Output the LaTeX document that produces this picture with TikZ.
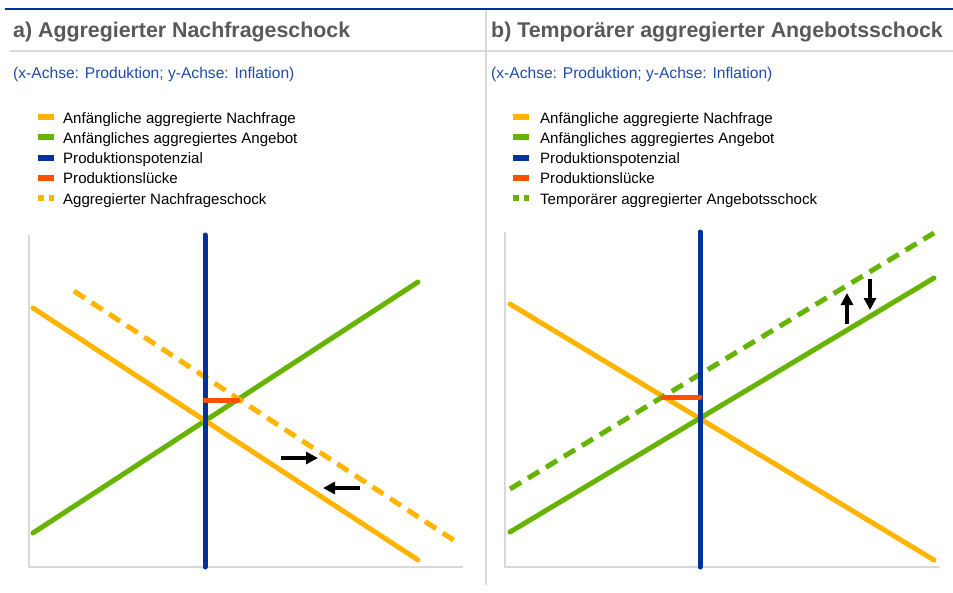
\documentclass[tikz,border=0pt]{standalone}
\usepackage{fontspec}
\setmainfont{Liberation Sans}
\usetikzlibrary{arrows.meta}
\definecolor{adorange}{HTML}{FFB400}
\definecolor{asgreen}{HTML}{66B300}
\definecolor{potblue}{HTML}{003399}
\definecolor{gapred}{HTML}{FF5000}
\definecolor{rulegray}{HTML}{D9D9D9}
\definecolor{titlegray}{HTML}{595959}
\definecolor{subblue}{HTML}{1E4DA1}
\tikzset{
  curve/.style={line width=5pt, line cap=round},
  dcurve/.style={line width=5pt, dash pattern=on 13pt off 8pt},
  legline/.style={line width=6pt},
  legdash/.style={line width=6pt, dash pattern=on 5.5pt off 5pt},
  legtext/.style={anchor=base west, inner sep=0pt, font=\fontsize{15.05}{17}\selectfont, text=black},
  paneltitle/.style={anchor=base west, inner sep=0pt, font=\fontsize{21.35}{25}\selectfont\bfseries, text=titlegray},
  subtitle/.style={anchor=base west, inner sep=0pt, font=\fontsize{15.6}{18}\selectfont, text=subblue},
  axisline/.style={rulegray, line width=1.2pt},
  shiftarrow/.style={line width=4pt, -{Triangle[length=12pt,width=12pt]}},
}
\begin{document}
\begin{tikzpicture}[x=1pt,y=-1pt]
\useasboundingbox (0,0) rectangle (953,592);
% frame lines
\coordinate (tb1) at (5,9); \coordinate (tb2) at (953,9);
\draw[potblue, line width=2pt] (tb1) -- (tb2);
\coordinate (gl1) at (10,51); \coordinate (gl2) at (953,51);
\draw[rulegray, line width=1.5pt] (gl1) -- (gl2);
\coordinate (sep1) at (486,10); \coordinate (sep2) at (486,585);
\draw[rulegray, line width=1.2pt] (sep1) -- (sep2);

% titles
\node[paneltitle] (ta) at (13,37.5) {a) Aggregierter Nachfrageschock};
\node[paneltitle] (tbb) at (491,37.5) {b) Temporärer aggregierter Angebotsschock};
\node[subtitle] (sa) at (13,78) {(x-Achse: Produktion; y-Achse: Inflation)};
\node[subtitle] (sb) at (491,78) {(x-Achse: Produktion; y-Achse: Inflation)};

% legend a
\foreach \i/\c/\t in {0/adorange/Anfängliche aggregierte Nachfrage,
                      1/asgreen/Anfängliches aggregiertes Angebot,
                      2/potblue/Produktionspotenzial,
                      3/gapred/Produktionslücke}{
  \coordinate (la\i s) at (38,117+20.3*\i);
  \coordinate (la\i e) at (54,117+20.3*\i);
  \draw[legline, \c] (la\i s) -- (la\i e);
  \node[legtext] (lat\i) at (63,123+20.3*\i) {\t};
  \coordinate (lb\i s) at (513,117+20.3*\i);
  \coordinate (lb\i e) at (529,117+20.3*\i);
  \draw[legline, \c] (lb\i s) -- (lb\i e);
  \node[legtext] (lbt\i) at (540,123+20.3*\i) {\t};
}
\coordinate (la4s) at (38,198.2); \coordinate (la4e) at (54,198.2);
\draw[legdash, adorange] (la4s) -- (la4e);
\node[legtext] (lat4) at (63,204.2) {Aggregierter Nachfrageschock};
\coordinate (lb4s) at (513,198.2); \coordinate (lb4e) at (529,198.2);
\draw[legdash, asgreen] (lb4s) -- (lb4e);
\node[legtext] (lbt4) at (540,204.2) {Temporärer aggregierter Angebotsschock};

% ---------- panel a ----------
\coordinate (ay0) at (29,235); \coordinate (ao) at (29,567); \coordinate (ax1) at (463,567);
\draw[axisline] (ay0) -- (ao) -- (ax1);
\coordinate (ad1) at (33,308); \coordinate (ad2) at (418,560);
\coordinate (as1) at (33,533); \coordinate (as2) at (418,282);
\coordinate (adn1) at (74,291); \coordinate (adn2) at (458,543);
\coordinate (pp1) at (205,235); \coordinate (pp2) at (205,567);
\coordinate (gp1) at (205,400); \coordinate (gp2) at (238,400);
\draw[curve, asgreen] (as1) -- (as2);
\draw[curve, adorange] (ad1) -- (ad2);
\draw[dcurve, adorange] (adn1) -- (adn2);
\draw[curve, potblue] (pp1) -- (pp2);
\draw[curve, gapred] (gp1) -- (gp2);
\coordinate (ar1s) at (281,458); \coordinate (ar1e) at (318,458);
\coordinate (ar2s) at (360,488); \coordinate (ar2e) at (323,488);
\draw[shiftarrow] (ar1s) -- (ar1e);
\draw[shiftarrow] (ar2s) -- (ar2e);

% ---------- panel b ----------
\coordinate (by0) at (505,232); \coordinate (bo) at (505,567); \coordinate (bx1) at (940,567);
\draw[axisline] (by0) -- (bo) -- (bx1);
\coordinate (bad1) at (510,304); \coordinate (bad2) at (934,560);
\coordinate (bas1) at (510,532); \coordinate (bas2) at (934,278);
\coordinate (basn1) at (510,489); \coordinate (basn2) at (934,233);
\coordinate (bpp1) at (700,232); \coordinate (bpp2) at (700,567);
\coordinate (bgp1) at (663,397); \coordinate (bgp2) at (700,397);
\draw[curve, adorange] (bad1) -- (bad2);
\draw[curve, asgreen] (bas1) -- (bas2);
\draw[dcurve, asgreen] (basn1) -- (basn2);
\draw[curve, potblue] (bpp1) -- (bpp2);
\draw[curve, gapred] (bgp1) -- (bgp2);
\coordinate (br1s) at (847,324); \coordinate (br1e) at (847,293);
\coordinate (br2s) at (870,279); \coordinate (br2e) at (870,310);
\draw[shiftarrow] (br1s) -- (br1e);
\draw[shiftarrow] (br2s) -- (br2e);
\end{tikzpicture}
\end{document}
